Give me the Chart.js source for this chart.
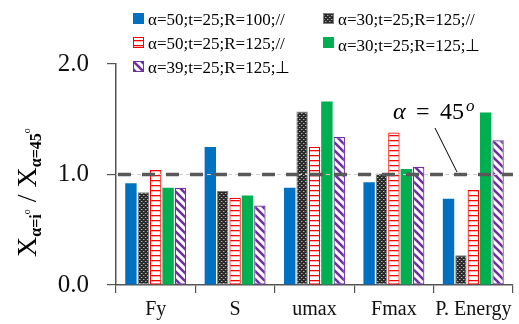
<!DOCTYPE html>
<html lang="en">
<head>
    <meta charset="UTF-8">
    <title>Ratio to alpha = 45</title>
    <script src="https://cdn.jsdelivr.net/npm/chart.js"></script>
    <style>
        body { margin: 0; background: #fff; }
        #wrap { width: 519px; height: 324px; }
    </style>
</head>
<body>
    <div id="wrap"><canvas id="plot" width="519" height="324"></canvas></div>
    <script>
        // categories and series
        const categories = ["Fy", "S", "umax", "Fmax", "P. Energy"];
        const seriesLabels = [
            "α=50;t=25;R=100;//",
            "α=30;t=25;R=125;//",
            "α=50;t=25;R=125;//",
            "α=30;t=25;R=125;⊥",
            "α=39;t=25;R=125;⊥"
        ];
        const s50_100 = [0.92, 1.25, 0.88, 0.93, 0.78];
        const s30_125 = [0.84, 0.85, 1.57, 1.01, 0.27];
        const s50_125 = [1.04, 0.79, 1.25, 1.38, 0.86];
        const s30_125p = [0.88, 0.81, 1.66, 1.05, 1.56];
        const s39_125p = [0.88, 0.72, 1.34, 1.07, 1.31];
        const yTicks = [0, 1, 2];
        const refValue = 1.0;

        const serif = "'Liberation Serif', 'Times New Roman', serif";
        const ctx = document.getElementById("plot").getContext("2d");

        function makePattern(size, draw) {
            const c = document.createElement("canvas");
            c.width = size; c.height = size;
            draw(c.getContext("2d"), size);
            return ctx.createPattern(c, "repeat");
        }

        const dotPattern = makePattern(4, (g, n) => {
            g.fillStyle = "#2a2a2a";
            g.fillRect(0, 0, n, n);
            g.fillStyle = "#b0b0b0";
            g.fillRect(1, 1, 1, 1);
            g.fillRect(3, 3, 1, 1);
            g.fillStyle = "#666";
            g.fillRect(2, 1, 1, 1);
            g.fillRect(0, 3, 1, 1);
        });
        const redStripes = makePattern(5, (g, n) => {
            g.fillStyle = "#fff";
            g.fillRect(0, 0, n, n);
            g.fillStyle = "#ff0000";
            g.fillRect(0, 0, n, 1.3);
        });
        const purpleDiag = makePattern(8, (g, n) => {
            g.fillStyle = "#fff";
            g.fillRect(0, 0, n, n);
            g.strokeStyle = "#7030a0";
            g.lineWidth = 2.6;
            g.beginPath();
            g.moveTo(-2, -2); g.lineTo(n + 2, n + 2);
            g.moveTo(-2, n - 2); g.lineTo(2, n + 2);
            g.moveTo(n - 2, -2); g.lineTo(n + 2, 2);
            g.stroke();
        });

        const fills = ["#0070c0", dotPattern, redStripes, "#00b050", purpleDiag];
        const borders = ["#0070c0", "#7f7f7f", "#ff0000", "#00b050", "#7030a0"];
        const borderW = [0, 1, 1.2, 0, 1.2];
        const values = [s50_100, s30_125, s50_125, s30_125p, s39_125p];

        // reference dashed line + alpha label, custom legend, y title
        const extras = {
            id: "extras",
            afterDatasetsDraw(chart) {
                const c = chart.ctx;
                const area = chart.chartArea;
                const y = chart.scales.y.getPixelForValue(refValue);
                c.save();
                c.strokeStyle = "#cfcfcf";
                c.lineWidth = 1;
                c.setLineDash([4, 3]);
                c.beginPath(); c.moveTo(area.left, y); c.lineTo(area.right, y); c.stroke();
                c.strokeStyle = "#595959";
                c.lineWidth = 3.5;
                c.setLineDash([13, 11]);
                c.lineDashOffset = -2;
                c.beginPath(); c.moveTo(area.left, y); c.lineTo(area.right, y); c.stroke();
                c.setLineDash([]);

                // label and pointer line
                c.strokeStyle = "#000";
                c.lineWidth = 1;
                c.beginPath(); c.moveTo(435, 128); c.lineTo(457, 172); c.stroke();
                c.fillStyle = "#000";
                c.textBaseline = "alphabetic";
                c.font = "italic 24px " + serif;
                c.fillText("α", 393, 119);
                c.font = "24px " + serif;
                c.fillText("=", 416, 119);
                c.fillText("45", 440, 119);
                c.font = "italic 17px " + serif;
                c.fillText("o", 466, 111);

                // legend
                const items = [[139, 20], [329, 20], [139, 44], [329, 44], [139, 68]];
                c.font = "17px " + serif;
                c.textBaseline = "middle";
                items.forEach((p, i) => {
                    const [x, yy] = p;
                    c.fillStyle = fills[i];
                    c.fillRect(x - 6, yy - 7, 11, 11);
                    if (borderW[i]) {
                        c.strokeStyle = borders[i];
                        c.lineWidth = 1;
                        c.strokeRect(x - 5.5, yy - 6.5, 10, 10);
                    }
                    c.fillStyle = "#000";
                    c.fillText(seriesLabels[i], x + 9, yy + (i === 3 ? 3 : 1));
                });

                // y axis title with subscripts
                c.translate(27, 257);
                c.rotate(-Math.PI / 2);
                c.textBaseline = "alphabetic";
                let x = 0;
                const part = (txt, font, dy) => {
                    c.font = font;
                    c.fillText(txt, x, dy);
                    x += c.measureText(txt).width;
                };
                part("X", "28px " + serif, 9);
                part("α=i", "bold 16px " + serif, 14);
                part("o", "10px " + serif, 3);
                part(" / X", "28px " + serif, 9);
                part("α=45", "bold 16px " + serif, 14);
                part("o", "10px " + serif, 3);
                c.restore();
            }
        };

        new Chart(ctx, {
            type: "bar",
            data: {
                labels: categories,
                datasets: values.map((v, i) => ({
                    label: seriesLabels[i],
                    data: v,
                    backgroundColor: fills[i],
                    borderColor: borders[i],
                    borderWidth: borderW[i],
                    borderSkipped: false
                }))
            },
            options: {
                responsive: false,
                animation: false,
                barPercentage: 0.92,
                categoryPercentage: 0.78,
                layout: { padding: { top: 64, right: 6, left: 0, bottom: 0 } },
                plugins: { legend: { display: false }, tooltip: { enabled: false } },
                scales: {
                    x: {
                        afterFit: s => { s.height = 39; },
                        border: { color: "#555", width: 1.5 },
                        grid: { drawOnChartArea: false, tickLength: 8, color: "#555", lineWidth: 1.2 },
                        ticks: {
                            color: "#111",
                            font: { family: serif, size: 20 },
                            padding: 5,
                            maxRotation: 0,
                            minRotation: 0,
                            autoSkip: false
                        }
                    },
                    y: {
                        min: 0,
                        max: 2,
                        afterFit: s => { s.width = 116; },
                        afterBuildTicks: s => { s.ticks = yTicks.map(v => ({ value: v })); },
                        border: { color: "#555", width: 1.5 },
                        grid: { drawOnChartArea: false, tickLength: 9, color: "#555", lineWidth: 1.2 },
                        ticks: {
                            color: "#111",
                            font: { family: serif, size: 25 },
                            padding: 18,
                            callback: v => Number(v).toFixed(1)
                        }
                    }
                }
            },
            plugins: [extras]
        });
    </script>
</body>
</html>
